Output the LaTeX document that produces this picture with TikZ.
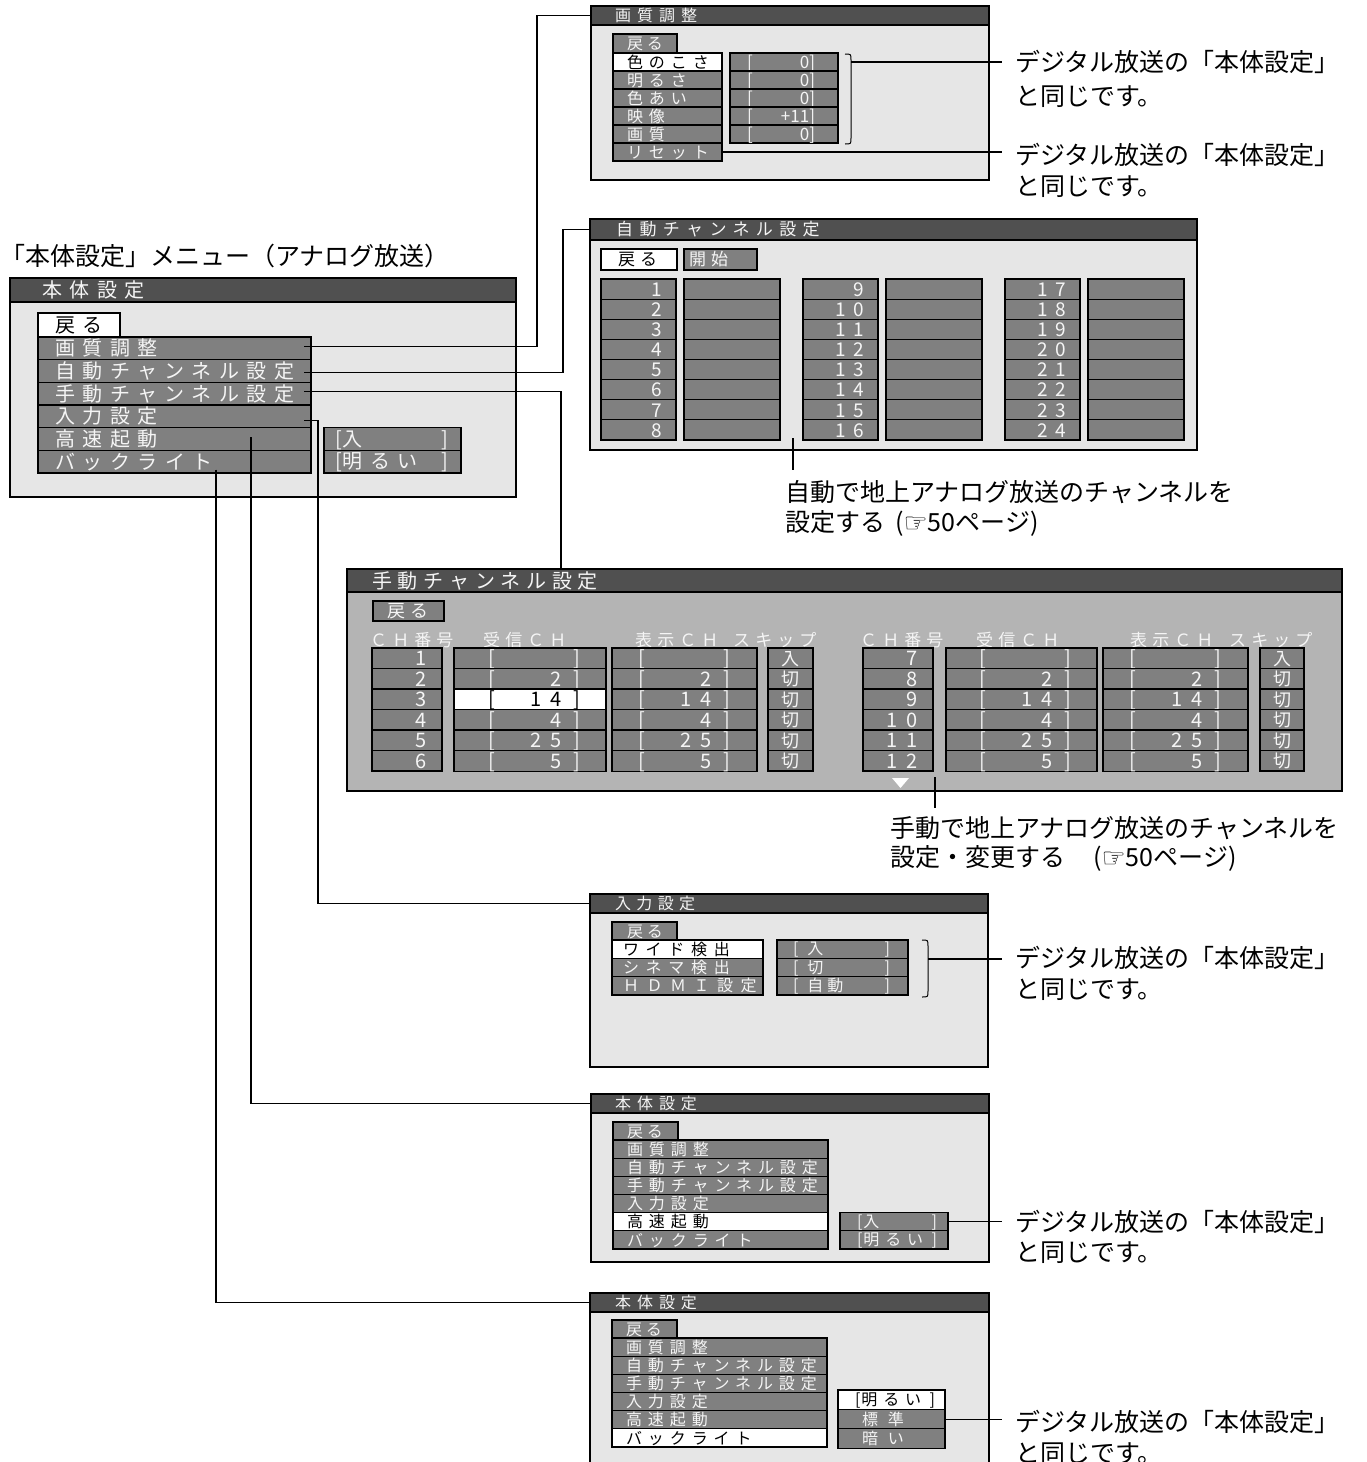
\documentclass[tikz,border=0pt]{standalone}
\usepackage{fontspec}
\newfontfamily\jp{Noto Sans CJK JP}
\newfontfamily\dv{DejaVu Sans}
\definecolor{barc}{RGB}{80,80,80}
\definecolor{cellc}{RGB}{128,128,128}
\definecolor{bgc}{RGB}{230,230,230}
\definecolor{bgd}{RGB}{180,180,180}
\definecolor{txw}{RGB}{245,245,245}
\newcommand\fz[2]{\jp\addfontfeature{LetterSpace=#2}\fontsize{#1}{#1}\selectfont}
\newcommand\mkL[3]{\makebox[#1pt][l]{\rule[-0.12em]{0pt}{1em}\hspace*{#2pt}#3}}
\newcommand\mkR[3]{\makebox[#1pt][r]{\rule[-0.12em]{0pt}{1em}#3\hspace*{#2pt}}}
\newcommand\mkS[4]{\makebox[#1pt][l]{\rule[-0.12em]{0pt}{1em}\hspace*{#2pt}#4\hspace*{#3pt}}}
\newcommand\hand{{\dv\fontsize{27}{27}\selectfont\raisebox{-1pt}{☞}}}
\newcommand\dsp{\hspace{7.5pt}}
\newcommand\dsq{\hspace{9pt}}
\newcommand\lb{{\jp\addfontfeature{LetterSpace=0}[}}
\tikzset{
  cellb/.style={anchor=north west, inner sep=0pt, outer sep=0pt, draw=black, line width=1.2pt},
  gcell/.style={cellb, fill=cellc, text=txw},
  wcell/.style={cellb, fill=white, text=black},
  pbox/.style={anchor=north west, inner sep=0pt, outer sep=0pt, draw=black, line width=1.6pt, fill=bgc},
  tbar/.style={anchor=north west, inner sep=0pt, outer sep=0pt, draw=black, line width=1.6pt, fill=barc},
  ttl/.style={anchor=west, inner sep=0pt, text=txw},
  hdr/.style={anchor=west, inner sep=0pt, text=txw, font=\fz{17}{30}},
  ann/.style={anchor=west, inner sep=0pt, font=\fz{25}{0}},
  conn/.style={draw=black, line width=1.2pt},
}
\begin{document}
\begin{tikzpicture}[x=1pt,y=-1pt]
\useasboundingbox (0,0) rectangle (1366,1462);
\clip (0,0) rectangle (1366,1462);
\coordinate (xe) at (1002,0);

% ---------- main menu ----------
\node[anchor=west, inner sep=0pt, font=\fz{25}{0}] (mtitle) at (0,256) {「本体設定」メニュー（アナログ放送）};
\node[pbox, minimum width=506pt, minimum height=219pt] (mm) at (10,278) {};
\node[tbar, minimum width=506pt, minimum height=24pt] (mmbar) at (10,278) {};
\node[ttl, font=\fz{20}{37.5}] (mmt) at (42,290) {本体設定};
\node[wcell, minimum width=82pt, minimum height=24pt, font=\fz{20}{37.5}] (mm0) at (38,313) {\mkL{82}{17}{戻る}};
\foreach \t/\s [count=\i] in {画質調整/gcell,自動チャンネル設定/gcell,手動チャンネル設定/gcell,入力設定/gcell,高速起動/gcell,バックライト/gcell}
  \node[\s, minimum width=273pt, minimum height=22.67pt, font=\fz{20}{37.5}] (m\i) at (38,{337+22.667*(\i-1)}) {\mkL{273}{17}{\t}};
\node[gcell, minimum width=137pt, minimum height=22.67pt, font=\fz{20}{37.5}] (mv1) at (324,427.67) {\mkS{137}{11}{13}{\lb\hspace{1pt}入\hfill]}};
\node[gcell, minimum width=137pt, minimum height=22.67pt, font=\fz{20}{37.5}] (mv2) at (324,450.33) {\mkS{137}{11}{13}{\lb\hspace{1pt}明るい\hfill]}};

% ---------- panel 1 ----------
\node[pbox, minimum width=398pt, minimum height=174pt] (p1) at (591,6) {};
\node[tbar, minimum width=398pt, minimum height=19pt] (p1bar) at (591,6) {};
\node[ttl, font=\fz{16}{37.5}] (p1t) at (615,15.5) {画質調整};
\node[gcell, minimum width=64pt, minimum height=19pt, font=\fz{16}{25}] (p1back) at (613,34) {\mkL{64}{14}{戻る}};
\foreach \t/\s [count=\i] in {色のこさ/wcell,明るさ/gcell,色あい/gcell,映像/gcell,画質/gcell,リセット/gcell}
  \node[\s, minimum width=109pt, minimum height=18pt, font=\fz{16}{37.5}] (p1r\i) at (613,{53+18*(\i-1)}) {\mkL{109}{14}{\t}};
\foreach \v [count=\i] in {0,0,0,+11,0}
  \node[gcell, minimum width=108pt, minimum height=18pt, font=\fz{17}{0}] (p1v\i) at (730,{53+18*(\i-1)}) {\mkS{108}{17}{23}{[\hfill\v]}};
\draw[conn, line width=1pt] (845,54) .. controls (851,54) .. (851,60) -- (851,138) .. controls (851,144) .. (845,144);
\coordinate (p1k) at (851,62);
\node[ann] (ann1a) at (1015,62) {デジタル放送の「本体設定」};
\node[ann] (ann1b) at (1015,97) {と同じです。};
\node[ann] (ann1c) at (1015,155) {デジタル放送の「本体設定」};
\node[ann] (ann1d) at (1015,187) {と同じです。};
\draw[conn] (p1k) -- (p1k -| xe);
\draw[conn] (p1r6.east) -- (p1r6.east -| xe);

% ---------- panel 2 ----------
\node[pbox, minimum width=607pt, minimum height=231pt] (p2) at (590,219) {};
\node[tbar, minimum width=607pt, minimum height=21pt] (p2bar) at (590,219) {};
\node[ttl, font=\fz{17}{37.5}] (p2t) at (616,229.5) {自動チャンネル設定};
\node[wcell, minimum width=76pt, minimum height=21pt, font=\fz{17}{30}] (p2back) at (601,249) {\mkL{76}{17}{戻る}};
\node[gcell, minimum width=73pt, minimum height=21pt, font=\fz{17}{30}] (p2start) at (684,249) {\mkL{73}{5}{開始}};
\foreach \n [count=\i] in {1,2,3,4,5,6,7,8} {
  \node[gcell, minimum width=75pt, minimum height=20.125pt, font=\fz{19}{0}] (p2a\i) at (601,{279+20.125*(\i-1)}) {\mkR{75}{14}{\n}};
  \node[gcell, minimum width=96pt, minimum height=20.125pt] (p2b\i) at (684,{279+20.125*(\i-1)}) {};
}
\foreach \n [count=\i] in {9,1\dsp0,1\dsp1,1\dsp2,1\dsp3,1\dsp4,1\dsp5,1\dsp6} {
  \node[gcell, minimum width=75pt, minimum height=20.125pt, font=\fz{19}{0}] (p2c\i) at (803,{279+20.125*(\i-1)}) {\mkR{75}{14}{\n}};
  \node[gcell, minimum width=96pt, minimum height=20.125pt] (p2d\i) at (886,{279+20.125*(\i-1)}) {};
}
\foreach \n [count=\i] in {1\dsp7,1\dsp8,1\dsp9,2\dsp0,2\dsp1,2\dsp2,2\dsp3,2\dsp4} {
  \node[gcell, minimum width=75pt, minimum height=20.125pt, font=\fz{19}{0}] (p2e\i) at (1005,{279+20.125*(\i-1)}) {\mkR{75}{14}{\n}};
  \node[gcell, minimum width=96pt, minimum height=20.125pt] (p2f\i) at (1088,{279+20.125*(\i-1)}) {};
}
\coordinate (t2a) at (793,438);
\coordinate (t2b) at (793,470);
\draw[conn] (t2a) -- (t2b);
\node[ann] (ann2a) at (785,492) {自動で地上アナログ放送のチャンネルを};
\node[ann] (ann2b) at (785,523) {設定する\hspace{10pt}(\hand 50ページ)};

% ---------- panel 3 ----------
\node[pbox, fill=bgd, minimum width=995pt, minimum height=222pt] (p3) at (347,569) {};
\node[tbar, minimum width=995pt, minimum height=23pt] (p3bar) at (347,569) {};
\node[ttl, font=\fz{20}{29}] (p3t) at (372,580.5) {手動チャンネル設定};
\node[gcell, line width=2.2pt, minimum width=71pt, minimum height=20pt, font=\fz{18}{30}] (p3back) at (373,601) {\mkL{71}{14}{戻る}};
\foreach \x/\t [count=\i] in {370/ＣＨ番号,483/受信ＣＨ,635/表示ＣＨ,733/スキップ,860/ＣＨ番号,976/受信ＣＨ,1130/表示ＣＨ,1229/スキップ}
  \node[hdr] (p3h\i) at (\x,640) {\t};
\foreach \n/\v/\k/\s [count=\i] in {1/{}/入/gcell,2/2/切/gcell,3/1\dsq4/切/wcell,4/4/切/gcell,5/2\dsq5/切/gcell,6/5/切/gcell} {
  \node[gcell, minimum width=70pt, minimum height=20.5pt, font=\fz{20}{0}] (p3a\i) at (372,{648+20.5*(\i-1)}) {\mkR{70}{15}{\n}};
  \node[\s, minimum width=152pt, minimum height=20.5pt, font=\fz{20}{0}] (p3b\i) at (454,{648+20.5*(\i-1)}) {\mkS{152}{34}{26}{[\hfill\v\hspace{12pt}]}};
  \node[gcell, minimum width=145pt, minimum height=20.5pt, font=\fz{20}{0}] (p3c\i) at (612,{648+20.5*(\i-1)}) {\mkS{145}{26}{27}{[\hfill\v\hspace{12pt}]}};
  \node[gcell, minimum width=45pt, minimum height=20.5pt, font=\fz{18}{0}] (p3d\i) at (768,{648+20.5*(\i-1)}) {\mkS{45}{0}{0}{\hfill\k\hfill}};
}
\foreach \n/\v/\k [count=\i] in {7/{}/入,8/2/切,9/1\dsq4/切,1\dsq0/4/切,1\dsq1/2\dsq5/切,1\dsq2/5/切} {
  \node[gcell, minimum width=70pt, minimum height=20.5pt, font=\fz{20}{0}] (p3e\i) at (863,{648+20.5*(\i-1)}) {\mkR{70}{15}{\n}};
  \node[gcell, minimum width=151pt, minimum height=20.5pt, font=\fz{20}{0}] (p3f\i) at (946,{648+20.5*(\i-1)}) {\mkS{151}{33}{26}{[\hfill\v\hspace{12pt}]}};
  \node[gcell, minimum width=145pt, minimum height=20.5pt, font=\fz{20}{0}] (p3g\i) at (1103,{648+20.5*(\i-1)}) {\mkS{145}{26}{27}{[\hfill\v\hspace{12pt}]}};
  \node[gcell, minimum width=44pt, minimum height=20.5pt, font=\fz{18}{0}] (p3h\i) at (1260,{648+20.5*(\i-1)}) {\mkS{44}{0}{0}{\hfill\k\hfill}};
}
\fill[white] (892,778) -- (909,778) -- (900.5,788) -- cycle;
\coordinate (t3a) at (935,777);
\coordinate (t3b) at (935,808);
\draw[conn] (t3a) -- (t3b);
\node[ann] (ann3a) at (890,828) {手動で地上アナログ放送のチャンネルを};
\node[ann] (ann3b) at (890,858) {設定・変更する\hspace{28pt}(\hand 50ページ)};

% ---------- panel 4 ----------
\node[pbox, minimum width=398pt, minimum height=173pt] (p4) at (590,894) {};
\node[tbar, minimum width=398pt, minimum height=19pt] (p4bar) at (590,894) {};
\node[ttl, font=\fz{16}{33}] (p4t) at (615,903.5) {入力設定};
\node[gcell, minimum width=65pt, minimum height=18pt, font=\fz{16}{25}] (p4back) at (612,922) {\mkL{65}{15}{戻る}};
\foreach \t/\s/\l [count=\i] in {ワイド検出/wcell/42,シネマ検出/gcell/42,ＨＤＭＩ設定/gcell/47}
  \node[\s, minimum width=151pt, minimum height=18.33pt, font=\fz{16}{\l}] (p4r\i) at (612,{940+18.33*(\i-1)}) {\mkL{151}{11}{\t}};
\foreach \v [count=\i] in {入,切,自動}
  \node[gcell, minimum width=131pt, minimum height=18.33pt, font=\fz{16}{25}] (p4v\i) at (777,{940+18.33*(\i-1)}) {\mkS{131}{16}{18}{\lb\hspace{9pt}\v\hfill]}};
\draw[conn, line width=1pt] (922,940) .. controls (928,940) .. (928,946) -- (928,991) .. controls (928,997) .. (922,997);
\coordinate (p4k) at (928,959);
\node[ann] (ann4a) at (1015,958) {デジタル放送の「本体設定」};
\node[ann] (ann4b) at (1015,990) {と同じです。};
\draw[conn] (p4k) -- (p4k -| xe);

% ---------- panel 5 ----------
\node[pbox, minimum width=398pt, minimum height=168pt] (p5) at (591,1094) {};
\node[tbar, minimum width=398pt, minimum height=19pt] (p5bar) at (591,1094) {};
\node[ttl, font=\fz{16}{37}] (p5t) at (615,1103.5) {本体設定};
\node[gcell, minimum width=65pt, minimum height=18pt, font=\fz{16}{25}] (p5back) at (613,1122) {\mkL{65}{14}{戻る}};
\foreach \t/\s [count=\i] in {画質調整/gcell,自動チャンネル設定/gcell,手動チャンネル設定/gcell,入力設定/gcell,高速起動/wcell,バックライト/gcell}
  \node[\s, minimum width=215pt, minimum height=18.17pt, font=\fz{16}{37}] (p5r\i) at (613,{1140+18.167*(\i-1)}) {\mkL{215}{14}{\t}};
\node[gcell, minimum width=108pt, minimum height=18.17pt, font=\fz{16}{37}] (p5v1) at (840,1212.67) {\mkS{108}{17}{11}{\lb\hspace{1pt}入\hfill]}};
\node[gcell, minimum width=108pt, minimum height=18.17pt, font=\fz{16}{37}] (p5v2) at (840,1230.83) {\mkS{108}{17}{11}{\lb\hspace{1pt}明るい\hfill]}};
\node[ann] (ann5a) at (1015,1222) {デジタル放送の「本体設定」};
\node[ann] (ann5b) at (1015,1253) {と同じです。};
\draw[conn] (p5v1.east) -- (p5v1.east -| xe);

% ---------- panel 6 ----------
\node[pbox, minimum width=399pt, minimum height=200pt] (p6) at (590,1293) {};
\node[tbar, minimum width=399pt, minimum height=19pt] (p6bar) at (590,1293) {};
\node[ttl, font=\fz{16}{37}] (p6t) at (615,1302.5) {本体設定};
\node[gcell, minimum width=65pt, minimum height=18pt, font=\fz{16}{25}] (p6back) at (612,1320) {\mkL{65}{14}{戻る}};
\foreach \t/\s [count=\i] in {画質調整/gcell,自動チャンネル設定/gcell,手動チャンネル設定/gcell,入力設定/gcell,高速起動/gcell,バックライト/wcell}
  \node[\s, minimum width=215pt, minimum height=18.17pt, font=\fz{16}{37}] (p6r\i) at (612,{1338+18.167*(\i-1)}) {\mkL{215}{14}{\t}};
\node[wcell, minimum width=107pt, minimum height=19.4pt, font=\fz{16}{37}] (p6v1) at (838,1390) {\mkS{107}{17}{10}{\lb\hspace{1pt}明るい\hfill]}};
\node[gcell, minimum width=107pt, minimum height=19.4pt, font=\fz{16}{62}] (p6v2) at (838,1409.4) {\mkL{107}{24}{標準}};
\node[gcell, minimum width=107pt, minimum height=19.4pt, font=\fz{16}{62}] (p6v3) at (838,1428.8) {\mkL{107}{24}{暗い}};
\node[ann] (ann6a) at (1015,1422) {デジタル放送の「本体設定」};
\node[ann] (ann6b) at (1015,1454) {と同じです。};
\draw[conn] (p6v2.east) -- (p6v2.east -| xe);

% ---------- connectors from main menu ----------
\draw[conn] ([xshift=-7pt,yshift=1.5pt]m1.east) -- ++(233,0) |- (p1bar.west);
\draw[conn] ([xshift=-7pt,yshift=-1.5pt]m2.east) -- ++(259,0) |- (p2bar.west);
\draw[conn] ([xshift=-7pt,yshift=2pt]m3.east) -- ++(257,0) coordinate (k3) -- (k3 |- p3.north);
\draw[conn] ([xshift=-7pt,yshift=-4pt]m4.east) -- ++(14,0) |- (p4bar.west);
\draw[conn] ([xshift=76.5pt,yshift=2pt]m5.center) |- (p5bar.west);
\draw[conn] ([xshift=41.5pt,yshift=-8pt]m6.center) |- (p6bar.west);
\end{tikzpicture}
\end{document}
